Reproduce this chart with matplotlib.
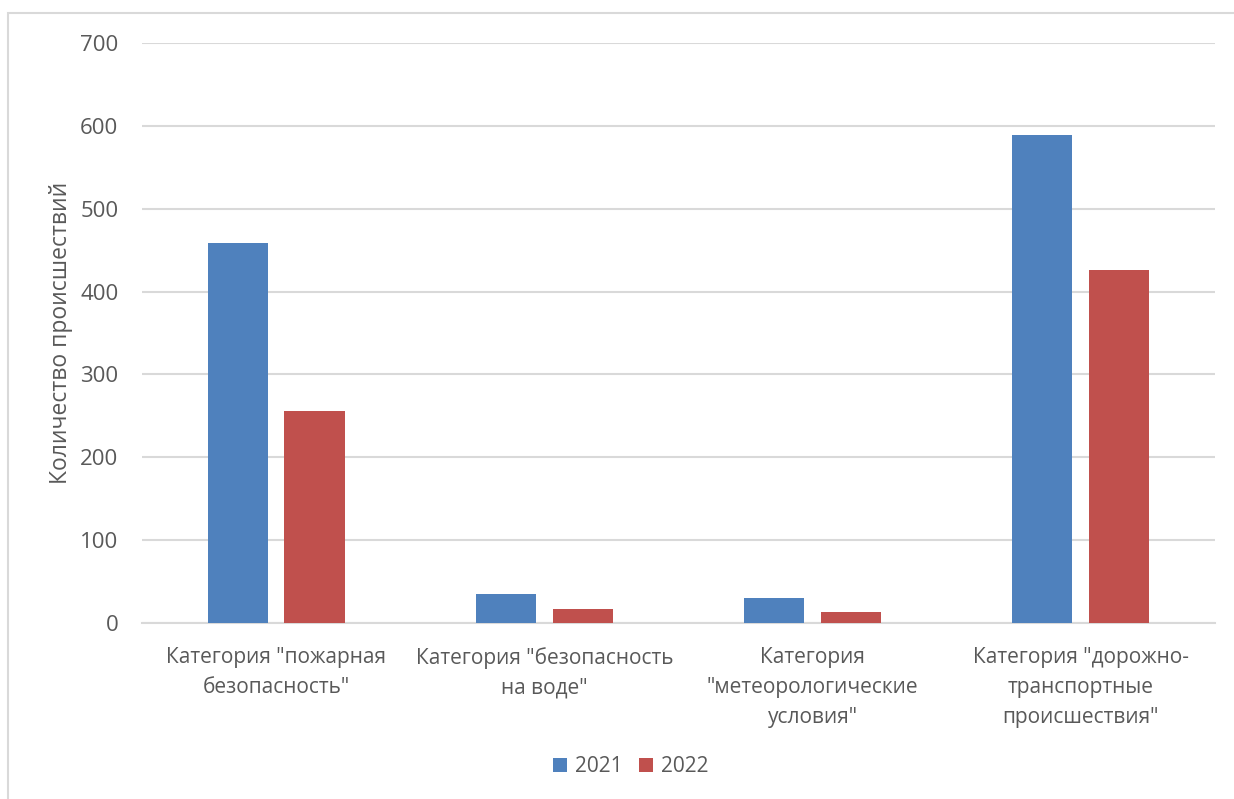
import matplotlib.pyplot as plt
import matplotlib.patches as mpatches
import numpy as np

categories = ['Категория "пожарная\nбезопасность"',
              'Категория "безопасность\nна воде"',
              'Категория\n"метеорологические\nусловия"',
              'Категория "дорожно-\nтранспортные\nпроисшествия"']
values_2021 = [459, 35, 30, 589]
values_2022 = [256, 17, 14, 426]
series_labels = ['2021', '2022']
y_label = 'Количество происшествий'

text_color = '#595959'
plt.rcParams['font.family'] = ['Open Sans', 'DejaVu Sans']

fig = plt.figure(figsize=(12.34, 7.99), dpi=100)
ax = fig.add_axes([0.115, 0.2199, 0.8696, 0.7267])

# chart border (cut off at right and bottom like the source)
fig.patches.append(mpatches.Rectangle((8 / 1234, -0.01), 1.0, 1 - 13 / 799 + 0.01,
                                      transform=fig.transFigure, fill=False,
                                      edgecolor='#d9d9d9', linewidth=1.5))

x = np.arange(len(categories))
w = 0.224
off = 0.1435
ax.bar(x - off, values_2021, w, color='#4f81bd', label=series_labels[0], zorder=3)
ax.bar(x + off, values_2022, w, color='#c0504d', label=series_labels[1], zorder=3)

ax.set_xlim(-0.5, 3.5)
ax.set_ylim(0, 700)
ax.set_yticks(range(0, 701, 100))
ax.yaxis.grid(True, color='#d9d9d9', linewidth=1.5, zorder=0)
ax.set_xticks(x)
ax.set_xticklabels(categories, fontsize=15, color=text_color, linespacing=1.55)
ax.tick_params(axis='y', labelsize=16, colors=text_color, length=0, pad=17)
ax.tick_params(axis='x', length=0, pad=17)
for s in ['top', 'right', 'left']:
    ax.spines[s].set_visible(False)
ax.spines['bottom'].set_color('#d9d9d9')
ax.spines['bottom'].set_linewidth(1.5)
ax.set_ylabel(y_label, fontsize=16.5, color=text_color, labelpad=5)

fig.legend(loc='center', bbox_to_anchor=(631 / 1234, 1 - 767 / 799), ncol=2, frameon=False,
           fontsize=15, labelcolor=text_color, handlelength=0.65, handleheight=0.65,
           handletextpad=0.4, columnspacing=0.8)

fig.savefig('out.png', dpi=100)
